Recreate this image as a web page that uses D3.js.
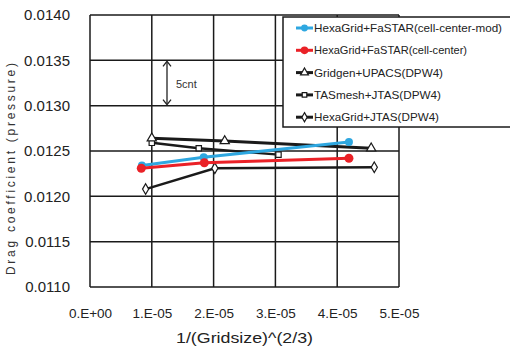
<!DOCTYPE html>
<html>
<head>
<meta charset="utf-8">
<script src="https://cdn.jsdelivr.net/npm/d3@7"></script>
<style>
  body { margin: 0; background: #fff; }
  text { font-family: "Liberation Sans", Arial, sans-serif; }
</style>
</head>
<body>
<div id="chart"></div>
<script>
// data
const seriesNames = [
  "HexaGrid+FaSTAR(cell-center-mod)",
  "HexaGrid+FaSTAR(cell-center)",
  "Gridgen+UPACS(DPW4)",
  "TASmesh+JTAS(DPW4)",
  "HexaGrid+JTAS(DPW4)"
];
const blueX = [0.84e-5, 1.84e-5, 4.19e-5];
const blueY = [0.01234, 0.01243, 0.01260];
const redX = [0.83e-5, 1.85e-5, 4.19e-5];
const redY = [0.01231, 0.01237, 0.01242];
const triX = [1.0e-5, 2.18e-5, 4.55e-5];
const triY = [0.01264, 0.01261, 0.01253];
const sqX = [1.0e-5, 1.76e-5, 3.05e-5];
const sqY = [0.01259, 0.01253, 0.01246];
const diaX = [0.9e-5, 2.02e-5, 4.6e-5];
const diaY = [0.01208, 0.01231, 0.01232];
const xTicks = [0, 1e-5, 2e-5, 3e-5, 4e-5, 5e-5];
const xTickLabels = ["0.E+00", "1.E-05", "2.E-05", "3.E-05", "4.E-05", "5.E-05"];
const yTicks = [0.0110, 0.0115, 0.0120, 0.0125, 0.0130, 0.0135, 0.0140];

const W = 510, H = 349;
const margin = { left: 90, top: 15, right: 111, bottom: 62 };

const svg = d3.select('#chart').append('svg')
  .attr('width', W).attr('height', H);

const x = d3.scaleLinear().domain([0, 5e-5]).range([margin.left, W - margin.right]);
const y = d3.scaleLinear().domain([0.0110, 0.0140]).range([H - margin.bottom, margin.top]);

// grid
const grid = svg.append('g').attr('stroke', '#1a1a1a').attr('stroke-width', 1.5);
grid.selectAll('.vg').data(xTicks).enter().append('line')
  .attr('x1', d => x(d)).attr('x2', d => x(d))
  .attr('y1', y(0.0140)).attr('y2', y(0.0110));
grid.selectAll('.hg').data(yTicks).enter().append('line')
  .attr('x1', x(0)).attr('x2', x(5e-5))
  .attr('y1', d => y(d)).attr('y2', d => y(d));

// axes (labels only)
const xAxis = svg.append('g')
  .attr('transform', 'translate(0,' + (y(0.0110) + 18) + ')')
  .call(d3.axisBottom(x).tickValues(xTicks).tickSize(0).tickFormat((d, i) => xTickLabels[i]));
xAxis.select('.domain').remove();
xAxis.selectAll('text').attr('font-size', 13.5).attr('fill', '#222')
  .attr('font-family', '"Liberation Sans", Arial, sans-serif');

const yAxis = svg.append('g')
  .attr('transform', 'translate(' + (x(0) - 17) + ',0)')
  .call(d3.axisLeft(y).tickValues(yTicks).tickSize(0).tickFormat(d3.format('.4f')));
yAxis.select('.domain').remove();
yAxis.selectAll('text').attr('font-size', 15).attr('fill', '#222')
  .attr('font-family', '"Liberation Sans", Arial, sans-serif');

svg.append('text')
  .attr('x', 176).attr('y', 343)
  .attr('font-size', 14).attr('fill', '#222')
  .attr('textLength', 137).attr('lengthAdjust', 'spacingAndGlyphs')
  .text('1/(Gridsize)^(2/3)');

svg.append('text')
  .attr('transform', 'translate(15,275) rotate(-90)')
  .attr('font-size', 12).attr('fill', '#333')
  .attr('textLength', 212).attr('lengthAdjust', 'spacing')
  .text('Drag coefficient (pressure)');

// 5cnt annotation
const ax = 167;
svg.append('line')
  .attr('x1', ax).attr('x2', ax)
  .attr('y1', y(0.0135) + 2).attr('y2', y(0.0130) - 2)
  .attr('stroke', '#222').attr('stroke-width', 1.3);
svg.append('path')
  .attr('d', `M${ax - 4},${y(0.0135) + 6}L${ax},${y(0.0135) + 1}L${ax + 4},${y(0.0135) + 6}`)
  .attr('fill', 'none').attr('stroke', '#222').attr('stroke-width', 1.3);
svg.append('path')
  .attr('d', `M${ax - 4},${y(0.0130) - 6}L${ax},${y(0.0130) - 1}L${ax + 4},${y(0.0130) - 6}`)
  .attr('fill', 'none').attr('stroke', '#222').attr('stroke-width', 1.3);
svg.append('text')
  .attr('x', 176).attr('y', 88)
  .attr('font-size', 11).attr('fill', '#333')
  .text('5cnt');

const series = [
  { xs: blueX, ys: blueY, color: '#2ea7e0', marker: 'circle', r: 4, width: 3 },
  { xs: redX, ys: redY, color: '#ea2127', marker: 'circle', r: 4.5, width: 3 },
  { xs: triX, ys: triY, color: '#1a1a1a', marker: 'triangle', r: 3.4, width: 3 },
  { xs: sqX, ys: sqY, color: '#1a1a1a', marker: 'square', r: 3, width: 2.5 },
  { xs: diaX, ys: diaY, color: '#1a1a1a', marker: 'diamond', r: 3.2, width: 2.5 }
];

const symType = { circle: d3.symbolCircle, triangle: d3.symbolTriangle, square: d3.symbolSquare, diamond: d3.symbolDiamond };

function drawMarker(g, s, px, py) {
  const size = s.marker === 'circle' ? Math.PI * s.r * s.r : s.r * s.r * 3.2;
  const m = g.append('path')
    .attr('transform', `translate(${px},${py})`)
    .attr('d', d3.symbol().type(symType[s.marker]).size(size)());
  if (s.marker === 'circle') {
    m.attr('fill', s.color);
  } else {
    m.attr('fill', '#fff').attr('stroke', s.color).attr('stroke-width', 1.2);
  }
}

const line = d3.line().x(d => x(d[0])).y(d => y(d[1]));

// draw order: black series first, then coloured ones on top
[4, 3, 2, 0, 1].forEach(i => {
  const s = series[i];
  const pts = s.xs.map((v, j) => [v, s.ys[j]]);
  const g = svg.append('g');
  g.append('path').datum(pts)
    .attr('d', line).attr('fill', 'none')
    .attr('stroke', s.color).attr('stroke-width', s.width);
  pts.forEach(p => drawMarker(g, s, x(p[0]), y(p[1])));
});

// legend
const lg = svg.append('g');
lg.append('rect')
  .attr('x', 283).attr('y', 17).attr('width', 240).attr('height', 110)
  .attr('fill', '#fff').attr('stroke', '#1a1a1a').attr('stroke-width', 1.5);
const legendWidths = [188, 153, 129, 127, 125];
series.forEach((s, i) => {
  const ly = 28 + i * 22.3;
  lg.append('line')
    .attr('x1', 296).attr('x2', 313).attr('y1', ly).attr('y2', ly)
    .attr('stroke', s.color).attr('stroke-width', 3);
  drawMarker(lg, Object.assign({}, s, { r: s.r * 0.85 }), 304.5, ly);
  lg.append('text')
    .attr('x', 314).attr('y', ly + 4)
    .attr('font-size', 11).attr('fill', '#222')
    .attr('textLength', legendWidths[i]).attr('lengthAdjust', 'spacingAndGlyphs')
    .text(seriesNames[i]);
});
</script>
</body>
</html>
